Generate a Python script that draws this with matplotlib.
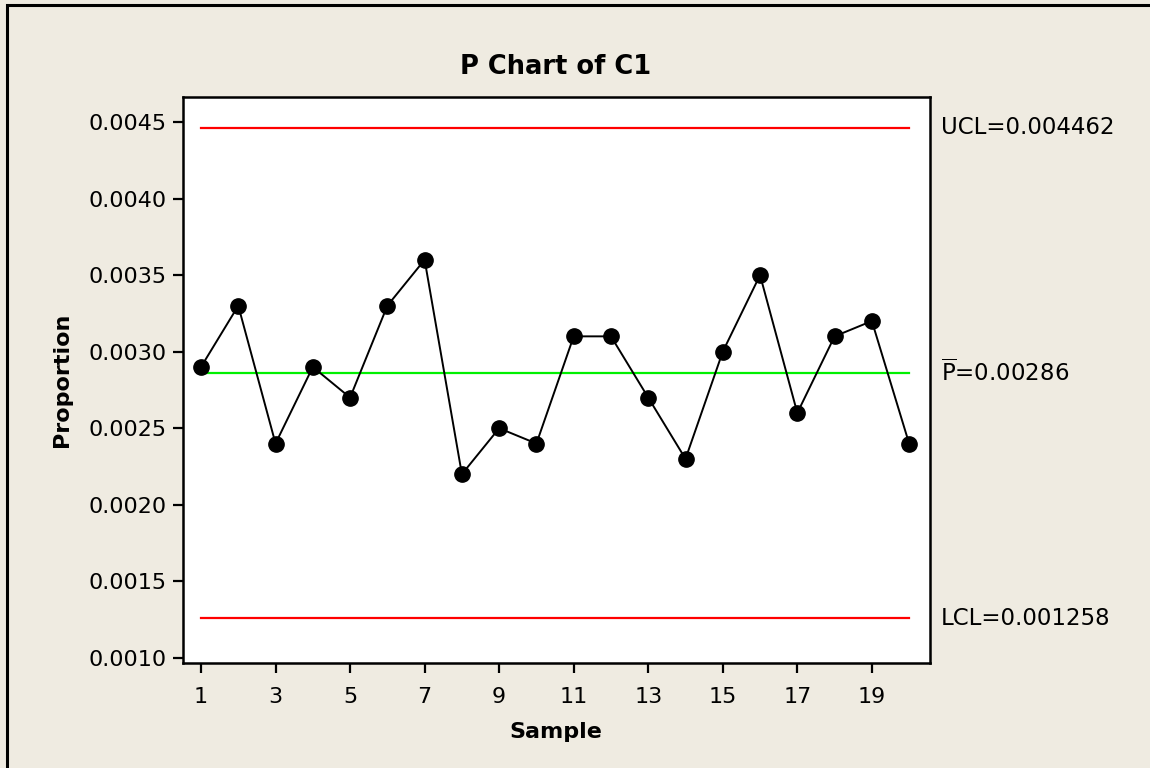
import numpy as np
import matplotlib
matplotlib.use("Agg")
import matplotlib.pyplot as plt
import matplotlib.transforms as mtransforms
from matplotlib.patches import Rectangle

# P chart data
samples = np.arange(1, 21)
proportion = [0.0029, 0.0033, 0.0024, 0.0029, 0.0027, 0.0033, 0.0036, 0.0022, 0.0025, 0.0024,
              0.0031, 0.0031, 0.0027, 0.0023, 0.0030, 0.0035, 0.0026, 0.0031, 0.0032, 0.0024]
ucl = 0.004462
pbar = 0.00286
lcl = 0.001258
yticks = [0.0010, 0.0015, 0.0020, 0.0025, 0.0030, 0.0035, 0.0040, 0.0045]
xticks = [1, 3, 5, 7, 9, 11, 13, 15, 17, 19]

bg = "#EFEBE1"
plt.rcParams['font.family'] = ['DejaVu Sans']
plt.rcParams['mathtext.fontset'] = 'dejavusans'

fig = plt.figure(figsize=(11.5, 7.68), dpi=100, facecolor=bg)
# outer frame
fig.patches.append(Rectangle((7/1150, -0.05), 1.2, 1 - 5/768 + 0.05, transform=fig.transFigure,
                             fill=False, edgecolor="black", linewidth=2.2, zorder=0))

ax = fig.add_axes([183/1150, 1 - 663/768, (930-183)/1150, (663-97)/768])
ax.set_facecolor("white")

ax.plot([samples[0], samples[-1]], [ucl, ucl], color="#FF0000", lw=1.6, zorder=2)
ax.plot([samples[0], samples[-1]], [lcl, lcl], color="#FF0000", lw=1.6, zorder=2)
ax.plot([samples[0], samples[-1]], [pbar, pbar], color="#00F000", lw=1.6, zorder=2)
ax.plot(samples, proportion, "-o", color="black", lw=1.4, markersize=11, zorder=3)

ax.set_xlim(0.517, 20.56)
ax.set_ylim(0.000967, 0.004663)
ax.set_xticks(xticks)
ax.set_yticks(yticks)
ax.set_yticklabels(["%.4f" % v for v in yticks])
ax.tick_params(axis="both", direction="out", length=7, width=1.6, labelsize=16, pad=5)
ax.tick_params(axis="x", pad=10)
for s in ax.spines.values():
    s.set_linewidth(1.8)

trans = mtransforms.blended_transform_factory(ax.transAxes, ax.transData)
ax.text(1.0147, ucl, "UCL=0.004462", transform=trans, fontsize=16.5, va="center", ha="left")
ax.text(1.0147, pbar, r"$\overline{\mathrm{P}}$=0.00286", transform=trans, fontsize=16.5, va="center", ha="left")
ax.text(1.0147, lcl, "LCL=0.001258", transform=trans, fontsize=16.5, va="center", ha="left")

fig.text(556/1150, 1 - 67/768, "P Chart of C1", fontsize=18.5, fontweight="bold", ha="center", va="center")
fig.text(62/1150, 1 - 380/768, "Proportion", fontsize=16, fontweight="bold", rotation=90, ha="center", va="center")
fig.text(556/1150, 1 - 732/768, "Sample", fontsize=16, fontweight="bold", ha="center", va="center")

fig.savefig("out.png", dpi=100, facecolor=bg)
